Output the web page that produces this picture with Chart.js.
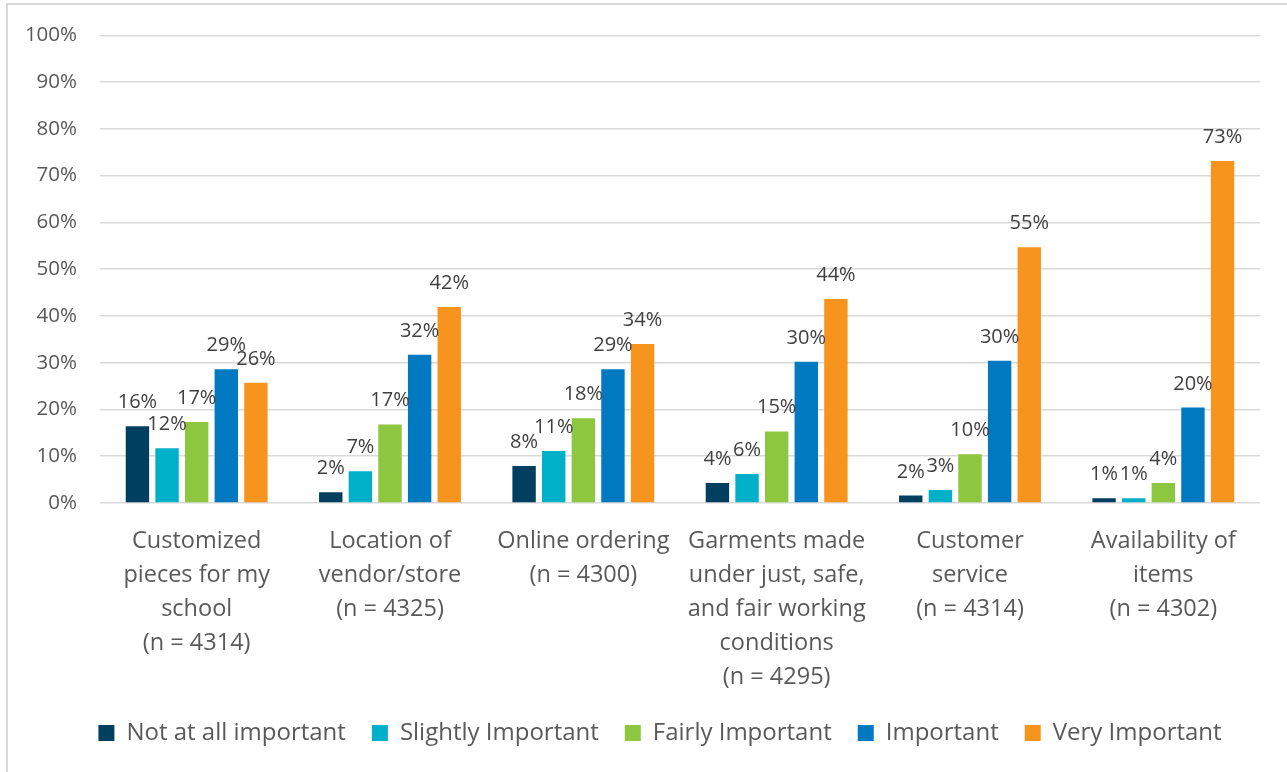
<!DOCTYPE html>
<html>
<head>
<meta charset="utf-8">
<script src="https://cdn.jsdelivr.net/npm/chart.js@4/dist/chart.umd.min.js"></script>
<style>
  html, body { margin: 0; padding: 0; background: #fff; }
  #wrap { position: relative; width: 1287px; height: 772px; overflow: hidden; }
  #frame { position: absolute; left: 6px; top: 3px; width: 1400px; height: 900px; border: 2px solid #d9d9d9; box-sizing: border-box; }
  canvas { position: absolute; left: 0; top: 0; }
</style>
</head>
<body>
<div id="wrap">
  <div id="frame"></div>
  <canvas id="c" width="1287" height="772"></canvas>
</div>
<script>
const categories = [
  ["Customized", "pieces for my", "school", "(n = 4314)"],
  ["Location of", "vendor/store", "(n = 4325)"],
  ["Online ordering", "(n = 4300)"],
  ["Garments made", "under just, safe,", "and fair working", "conditions", "(n = 4295)"],
  ["Customer", "service", "(n = 4314)"],
  ["Availability of", "items", "(n = 4302)"]
];
const seriesNames = ["Not at all important", "Slightly Important", "Fairly Important", "Important", "Very Important"];
const notAtAll   = [16.4, 2.3, 7.9, 4.3, 1.6, 1.0];
const slightly   = [11.7, 6.8, 11.1, 6.2, 2.8, 1.0];
const fairly     = [17.3, 16.8, 18.1, 15.3, 10.4, 4.3];
const important  = [28.6, 31.7, 28.6, 30.2, 30.4, 20.4];
const veryImp    = [25.7, 41.9, 34.0, 43.6, 54.7, 73.1];
const colors = ["#003F5F", "#00AFC8", "#8DC63F", "#0079C1", "#F7941D"];
const yTicks = [0, 10, 20, 30, 40, 50, 60, 70, 80, 90, 100];

const FONT = "'Open Sans', 'Noto Sans', sans-serif";

const labelPlugin = {
  id: 'barLabels',
  afterDatasetsDraw(chart) {
    const ctx = chart.ctx;
    ctx.save();
    ctx.font = "20px " + FONT;
    ctx.fillStyle = "#404040";
    ctx.textAlign = "center";
    ctx.textBaseline = "alphabetic";
    chart.data.datasets.forEach((ds, di) => {
      const meta = chart.getDatasetMeta(di);
      meta.data.forEach((bar, i) => {
        ctx.fillText(Math.round(ds.data[i]) + "%", bar.x, bar.y - 18);
      });
    });
    ctx.restore();
  }
};

// Shift the legend so that it is centred under the whole frame, as in the reference.
const legendShift = {
  id: 'legendShift',
  afterLayout(chart) {
    const lg = chart.legend;
    if (!lg) return;
    const dx = 30;
    lg.left += dx; lg.right += dx;
    if (lg.legendHitBoxes) lg.legendHitBoxes.forEach(h => { h.left += dx; });
  }
};

const allSeries = [notAtAll, slightly, fairly, important, veryImp];

new Chart(document.getElementById('c'), {
  type: 'bar',
  data: {
    labels: categories,
    datasets: allSeries.map((d, i) => ({
      label: seriesNames[i],
      data: d,
      backgroundColor: colors[i],
      borderWidth: 0,
      categoryPercentage: 0.766,
      barPercentage: 0.79
    }))
  },
  options: {
    responsive: false,
    animation: false,
    devicePixelRatio: 1,
    layout: { padding: { left: 0, right: 27, top: 33, bottom: 17 } },
    plugins: {
      tooltip: { enabled: false },
      legend: {
        position: 'bottom',
        labels: {
          boxWidth: 16, boxHeight: 16,
          font: { family: FONT, size: 24 },
          color: "#595959",
          padding: 26
        }
      }
    },
    scales: {
      x: {
        grid: { display: false, drawTicks: false },
        border: { display: false },
        ticks: {
          font: { family: FONT, size: 23.5, lineHeight: 1.45 },
          color: "#595959",
          maxRotation: 0, minRotation: 0, autoSkip: false,
          padding: 21
        },
        afterFit(s) { s.height = 192; }
      },
      y: {
        min: 0, max: 100,
        afterBuildTicks(s) { s.ticks = yTicks.map(v => ({ value: v })); },
        grid: { color: "#d9d9d9", lineWidth: 1.5, drawTicks: false },
        border: { display: false },
        ticks: {
          font: { family: FONT, size: 20.5 },
          color: "#595959",
          padding: 23,
          callback: v => v + "%"
        },
        afterFit(s) { s.width = 100; }
      }
    }
  },
  plugins: [labelPlugin, legendShift]
});
</script>
</body>
</html>
